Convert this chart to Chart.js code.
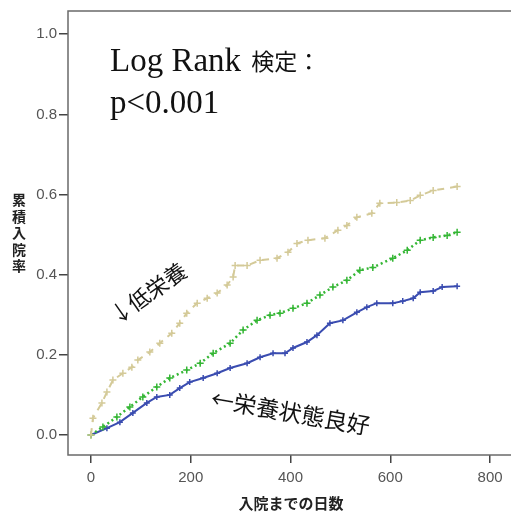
<!DOCTYPE html>
<html>
<head>
<meta charset="utf-8">
<script src="https://cdn.jsdelivr.net/npm/chart.js@4/dist/chart.umd.min.js"></script>
<style>
  html, body { margin: 0; padding: 0; background: #fff; overflow: hidden; }
  canvas { display: block; }
</style>
</head>
<body>
<canvas id="c" width="520" height="518"></canvas>
<script>
// ---- data ----
const tanDays   = [0, 4, 22, 32, 44, 64, 82, 94, 118, 138, 162, 178, 192, 213, 233, 253, 273, 285, 289, 313, 339, 373, 395, 413, 435, 469, 495, 513, 533, 563, 579, 613, 640, 660, 686, 734];
const tanRates  = [0, 0.042, 0.080, 0.107, 0.137, 0.154, 0.169, 0.187, 0.207, 0.229, 0.254, 0.279, 0.304, 0.329, 0.341, 0.354, 0.374, 0.394, 0.423, 0.423, 0.436, 0.441, 0.456, 0.478, 0.486, 0.491, 0.511, 0.523, 0.543, 0.553, 0.578, 0.580, 0.585, 0.598, 0.610, 0.620];

const greenDays  = [0, 24, 52, 78, 104, 132, 158, 192, 219, 245, 279, 305, 333, 359, 379, 405, 433, 459, 485, 513, 539, 565, 605, 634, 660, 686, 714, 734];
const greenRates = [0, 0.020, 0.045, 0.070, 0.095, 0.120, 0.142, 0.162, 0.179, 0.204, 0.229, 0.262, 0.286, 0.299, 0.304, 0.316, 0.329, 0.349, 0.369, 0.386, 0.411, 0.418, 0.441, 0.461, 0.486, 0.493, 0.498, 0.506];

const blueDays  = [0, 32, 58, 84, 112, 132, 158, 178, 198, 225, 253, 279, 313, 339, 365, 389, 405, 433, 453, 479, 505, 533, 553, 573, 605, 625, 646, 660, 686, 704, 734];
const blueRates = [0, 0.017, 0.032, 0.055, 0.080, 0.095, 0.100, 0.117, 0.132, 0.142, 0.154, 0.167, 0.179, 0.194, 0.204, 0.204, 0.217, 0.232, 0.249, 0.279, 0.286, 0.306, 0.319, 0.329, 0.329, 0.334, 0.341, 0.356, 0.359, 0.369, 0.371];

const xTicks = [0, 200, 400, 600, 800];
const yTicks = [0.0, 0.2, 0.4, 0.6, 0.8, 1.0];

const xTitle = "入院までの日数";
const yTitle = "累積入院率";
const testLatin = "Log Rank ";
const testCJK = "検定：";
const testLine2 = "p<0.001";
const labelLow = "↓低栄養";
const labelGood = "←栄養状態良好";

// ---- build ----
const toPts = (xs, ys) => xs.map((x, i) => ({ x: x, y: ys[i] }));

const TAN = "rgb(212,202,152)";
const GREEN = "rgb(52,182,52)";
const BLUE = "rgb(58,76,176)";

const framePlugin = {
  id: "frame",
  beforeDatasetsDraw(chart) {
    const { ctx, chartArea: a } = chart;
    ctx.save();
    ctx.strokeStyle = "#6a6a6a";
    ctx.lineWidth = 1.5;
    ctx.strokeRect(a.left, a.top, a.right - a.left, a.bottom - a.top);
    ctx.restore();
  }
};

const textPlugin = {
  id: "texts",
  afterDraw(chart) {
    const ctx = chart.ctx;
    ctx.save();
    // y title, stacked characters
    ctx.fillStyle = "#222";
    ctx.font = 'bold 14px "Noto Sans CJK JP"';
    ctx.textAlign = "center";
    ctx.textBaseline = "middle";
    Array.from(yTitle).forEach((ch, i) => ctx.fillText(ch, 19, 200 + i * 16.4));
    // x title
    ctx.font = 'bold 15px "Noto Sans CJK JP"';
    ctx.fillText(xTitle, 291, 503);

    // Log rank text
    ctx.fillStyle = "#111";
    ctx.textAlign = "left";
    ctx.textBaseline = "alphabetic";
    ctx.font = '33px "Liberation Serif"';
    ctx.fillText(testLatin, 110, 71);
    const w = ctx.measureText(testLatin).width;
    ctx.font = '23px "Noto Sans CJK JP"';
    ctx.fillText(testCJK, 110 + w + 2, 70);
    ctx.font = '33px "Liberation Serif"';
    ctx.fillText(testLine2, 110, 113);

    // annotation: 低栄養
    ctx.font = '22px "Noto Sans CJK JP"';
    ctx.textBaseline = "middle";
    ctx.save();
    ctx.translate(121, 312);
    ctx.rotate(-35 * Math.PI / 180);
    ctx.fillText(labelLow, -11, 0);
    ctx.restore();

    // annotation: 栄養状態良好
    ctx.font = '23px "Noto Sans CJK JP"';
    ctx.save();
    ctx.translate(222, 400);
    ctx.rotate(10 * Math.PI / 180);
    ctx.fillText(labelGood, -11, 0);
    ctx.restore();

    ctx.restore();
  }
};

new Chart(document.getElementById("c"), {
  type: "line",
  data: {
    datasets: [
      {
        label: "低栄養",
        data: toPts(tanDays, tanRates),
        borderColor: TAN,
        backgroundColor: TAN,
        borderWidth: 2,
        borderDash: [7, 6],
        pointStyle: "cross",
        pointRadius: 3.5,
        pointBorderWidth: 1.5,
        pointBorderColor: TAN,
        fill: false,
        tension: 0
      },
      {
        label: "中間",
        data: toPts(greenDays, greenRates),
        borderColor: GREEN,
        backgroundColor: GREEN,
        borderWidth: 2.5,
        borderDash: [2, 3],
        pointStyle: "cross",
        pointRadius: 3.5,
        pointBorderWidth: 1.5,
        pointBorderColor: GREEN,
        fill: false,
        tension: 0
      },
      {
        label: "栄養状態良好",
        data: toPts(blueDays, blueRates),
        borderColor: BLUE,
        backgroundColor: BLUE,
        borderWidth: 2,
        pointStyle: "cross",
        pointRadius: 3,
        pointBorderWidth: 1.5,
        pointBorderColor: BLUE,
        fill: false,
        tension: 0
      }
    ]
  },
  options: {
    responsive: false,
    animation: false,
    devicePixelRatio: 1,
    layout: { padding: { top: 10, right: 7, left: 0, bottom: 0 } },
    plugins: { legend: { display: false }, tooltip: { enabled: false } },
    scales: {
      x: {
        type: "linear",
        min: -46,
        max: 846,
        afterFit: s => { s.height = 63; },
        afterBuildTicks: s => { s.ticks = xTicks.map(v => ({ value: v })); },
        ticks: {
          font: { family: "Liberation Sans", size: 15 },
          color: "#555",
          padding: 6,
          maxRotation: 0,
          autoSkip: false
        },
        grid: { drawOnChartArea: false, tickLength: 8, color: "#444", lineWidth: 1.5 },
        border: { display: false }
      },
      y: {
        type: "linear",
        min: -0.05,
        max: 1.058,
        afterFit: s => { s.width = 68; },
        afterBuildTicks: s => { s.ticks = yTicks.map(v => ({ value: v })); },
        ticks: {
          font: { family: "Liberation Sans", size: 15 },
          color: "#555",
          padding: 2,
          autoSkip: false,
          callback: v => Number(v).toFixed(1)
        },
        grid: { drawOnChartArea: false, tickLength: 9, color: "#444", lineWidth: 1.5 },
        border: { display: false }
      }
    }
  },
  plugins: [framePlugin, textPlugin]
});
</script>
</body>
</html>
